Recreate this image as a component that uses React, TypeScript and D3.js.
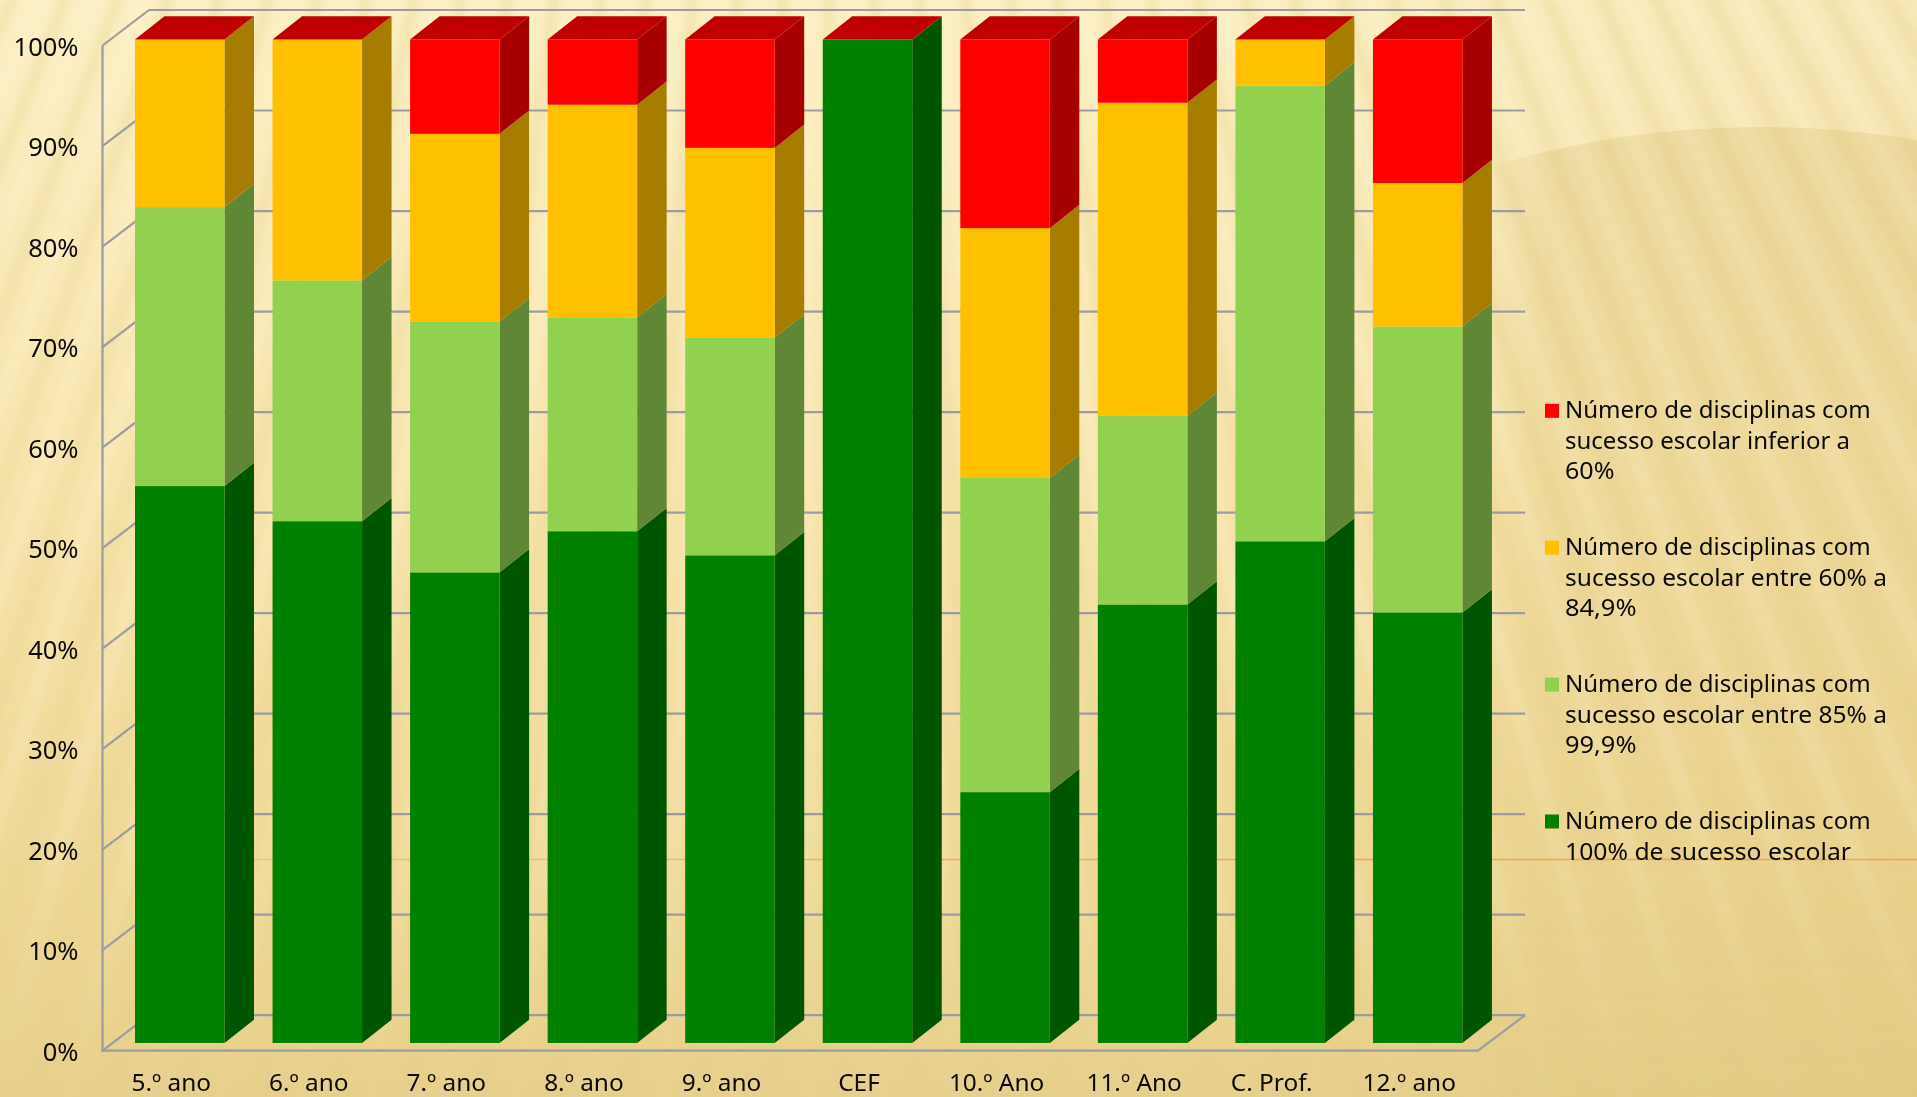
import React from "react";
import * as d3 from "d3";

const categories = ["5.º ano", "6.º ano", "7.º ano", "8.º ano", "9.º ano", "CEF", "10.º Ano", "11.º Ano", "C. Prof.", "12.º ano"];
const full100 = [55.5, 52, 46.9, 51, 48.6, 100, 25, 43.7, 50, 42.9];
const from85 = [27.8, 24, 25, 21.3, 21.7, 0, 31.3, 18.8, 45.4, 28.5];
const from60 = [16.7, 24, 18.7, 21.2, 18.9, 0, 24.9, 31.2, 4.6, 14.3];
const below60 = [0, 0, 9.4, 6.5, 10.8, 0, 18.8, 6.3, 0, 14.3];
const seriesKeys = ["full100", "from85", "from60", "below60"];
const seriesValues: Record<string, number[]> = { full100, from85, from60, below60 };
const frontColors = ["#008000", "#92d050", "#ffc000", "#ff0000"];
const sideColors = ["#005500", "#5f8735", "#a67d00", "#a60000"];
const topColor = "#c00000";
const legendEntries = [
  { color: "#ff0000", lines: ["Número de disciplinas com", "sucesso escolar inferior a", "60%"] },
  { color: "#ffc000", lines: ["Número de disciplinas com", "sucesso escolar entre 60% a", "84,9%"] },
  { color: "#92d050", lines: ["Número de disciplinas com", "sucesso escolar entre 85% a", "99,9%"] },
  { color: "#008000", lines: ["Número de disciplinas com", "100% de sucesso escolar"] },
];
const ticks = [0, 10, 20, 30, 40, 50, 60, 70, 80, 90, 100];
const fittedWidths: Record<string, number> = {
  "sucesso escolar entre 60% a": 322,
  "sucesso escolar entre 85% a": 322,
  "100% de sucesso escolar": 286,
  "60%": 49.5,
  "84,9%": 71.5,
  "99,9%": 71.5,
};

const W = 1917, H = 1097;
const FONT = "'Noto Sans', sans-serif";
const DX = 29.5, DY = 23.3;
const wallDX = 46.5, wallDY = 35.5;
const barOffset = 32.5, barW = 89.5;

const x = d3.scaleBand<string>().domain(categories).range([102.5, 1478]);
const yAxis = d3.scaleLinear().domain([0, 100]).range([1050.7, 45.5]);
const yBar = d3.scaleLinear().domain([0, 100]).range([1043, 39.5]);

const rows = categories.map((c, i) => {
  const r: any = { c };
  seriesKeys.forEach((k) => (r[k] = seriesValues[k][i]));
  return r;
});
const stacked = d3.stack<any>().keys(seriesKeys)(rows);
const poly = (pts: number[][]) => pts.map((p) => p.join(",")).join(" ");

const apex = [800, -1850];
const period = 0.0123;
const stripeAngles = d3.range(-45, 46).map((i) => i * period);

export default function App() {
  const stripe = (a: number, w: number) => {
    const yt = -20;
    const yb = H + 20;
    const at = (ang: number, yy: number) => [apex[0] + Math.tan(ang) * (yy - apex[1]), yy];
    return poly([at(a, yt), at(a + w, yt), at(a + w, yb), at(a, yb)]);
  };
  return (
    <svg width={W} height={H} viewBox={`0 0 ${W} ${H}`} style={{ position: "fixed", left: 0, top: 0, display: "block" }}>
      <defs>
        <linearGradient id="bg" x1="0" y1="0" x2="0" y2="1">
          <stop offset="0" stopColor="#fcefc4" />
          <stop offset="0.45" stopColor="#f7e4ac" />
          <stop offset="0.8" stopColor="#efd896" />
          <stop offset="1" stopColor="#e7d08b" />
        </linearGradient>
        <linearGradient id="right" x1="0" y1="0" x2="1" y2="0">
          <stop offset="0.6" stopColor="#c9a94f" stopOpacity="0" />
          <stop offset="1" stopColor="#c9a94f" stopOpacity="0.1" />
        </linearGradient>
        <linearGradient id="fade" x1="0" y1="0" x2="0" y2="1">
          <stop offset="0" stopColor="#fff" stopOpacity="1" />
          <stop offset="0.75" stopColor="#fff" stopOpacity="0.6" />
          <stop offset="0.95" stopColor="#fff" stopOpacity="0.08" />
        </linearGradient>
        <mask id="fadeMask" maskUnits="userSpaceOnUse" x="0" y="0" width={W} height={H}>
          <rect width={W} height={H} fill="url(#fade)" />
        </mask>
        <linearGradient id="arcFill" x1="0" y1="0" x2="0" y2="1">
          <stop offset="0" stopColor="#c8a950" stopOpacity="0.2" />
          <stop offset="0.5" stopColor="#c8a950" stopOpacity="0.07" />
          <stop offset="1" stopColor="#c8a950" stopOpacity="0" />
        </linearGradient>
        <linearGradient id="arcSide" x1="0" y1="0" x2="1" y2="0">
          <stop offset="0" stopColor="#fff" stopOpacity="0" />
          <stop offset="0.15" stopColor="#fff" stopOpacity="1" />
        </linearGradient>
        <mask id="arcMask" maskUnits="userSpaceOnUse" x="1480" y="0" width="437" height={H}>
          <rect x="1480" y="0" width="437" height={H} fill="url(#arcSide)" />
        </mask>
        <linearGradient id="orange" gradientUnits="userSpaceOnUse" x1="230" y1="0" x2={W} y2="0">
          <stop offset="0" stopColor="#eba94e" stopOpacity="0.45" />
          <stop offset="0.6" stopColor="#eba94e" stopOpacity="1" />
        </linearGradient>
        <filter id="soft" filterUnits="userSpaceOnUse" x="0" y="0" width={W} height={H}>
          <feGaussianBlur stdDeviation="2.5" />
        </filter>
        <filter id="edge" filterUnits="userSpaceOnUse" x="0" y="0" width={W} height={H}>
          <feGaussianBlur stdDeviation="0.45" />
        </filter>
      </defs>

      <rect width={W} height={H} fill="url(#bg)" />
      <rect width={W} height={H} fill="url(#right)" />
      <g mask="url(#fadeMask)">
        <g filter="url(#soft)">
          {stripeAngles.map((a, i) => (
            <polygon key={i} points={stripe(a, period * 0.5)} fill={i % 2 ? "#fff6d2" : "#e3cf85"} opacity={i % 2 ? 0.3 : 0.25} />
          ))}
        </g>
      </g>
      <g mask="url(#arcMask)">
        <ellipse cx="1760" cy="700" rx="738" ry="573" fill="url(#arcFill)" />
      </g>

      <line x1={230} x2={W} y1={859.5} y2={859.5} stroke="url(#orange)" strokeWidth={1.6} />

      <g filter="url(#edge)">
        {ticks.map((t) => (
          <g key={t} stroke="#9a9ca2" strokeWidth={2.2} fill="none">
            <line x1={102.5} y1={yAxis(t)} x2={102.5 + wallDX} y2={yAxis(t) - wallDY} />
            <line x1={102.5 + wallDX} y1={yAxis(t) - wallDY} x2={1525} y2={yAxis(t) - wallDY} />
          </g>
        ))}
        <line x1={102.5} y1={yAxis(100)} x2={102.5} y2={yAxis(0) + 1} stroke="#9a9ca2" strokeWidth={2.2} />
        <line x1={101.5} y1={yAxis(0)} x2={1478} y2={yAxis(0)} stroke="#9a9ca2" strokeWidth={2.2} />
        <line x1={1478} y1={yAxis(0)} x2={1525} y2={yAxis(0) - wallDY} stroke="#9a9ca2" strokeWidth={2.2} />

        {categories.map((c, i) => {
          const left = (x(c) as number) + barOffset;
          return (
            <g key={c}>
              {stacked.map((s, si) => {
                const y0 = yBar(s[i][0]);
                const y1 = yBar(s[i][1]);
                if (s[i][1] - s[i][0] <= 0) return null;
                return (
                  <g key={si}>
                    <polygon
                      points={poly([[left + barW, y0], [left + barW + DX, y0 - DY], [left + barW + DX, y1 - DY], [left + barW, y1]])}
                      fill={sideColors[si]}
                    />
                    <rect x={left} y={y1} width={barW} height={y0 - y1} fill={frontColors[si]} />
                  </g>
                );
              })}
              <polygon
                points={poly([[left, yBar(100)], [left + barW, yBar(100)], [left + barW + DX, yBar(100) - DY], [left + DX, yBar(100) - DY]])}
                fill={topColor}
              />
            </g>
          );
        })}
      </g>

      <g fontFamily={FONT} fill="#0a0a0a" fontSize={24}>
        {ticks.map((t) => (
          <text key={t} x={78.5} y={yAxis(t) + 10.2} textAnchor="end" fontSize={25.5}>{`${t}%`}</text>
        ))}
        {categories.map((c) => (
          <text key={c} x={(x(c) as number) + x.bandwidth() / 2} y={1091} textAnchor="middle" fontSize={24.4}>{c}</text>
        ))}
        {legendEntries.map((e, i) => {
          const y0 = d3.scaleLinear().domain([0, 3]).range([418.3, 829])(i);
          return (
            <g key={i}>
              <rect x={1545} y={y0 - 14.5} width={14} height={14} fill={e.color} />
              {e.lines.map((l, j) => (
                <text key={j} x={1565} y={y0 + j * 30.5} textLength={fittedWidths[l]} lengthAdjust="spacingAndGlyphs">{l}</text>
              ))}
            </g>
          );
        })}
      </g>
    </svg>
  );
}
